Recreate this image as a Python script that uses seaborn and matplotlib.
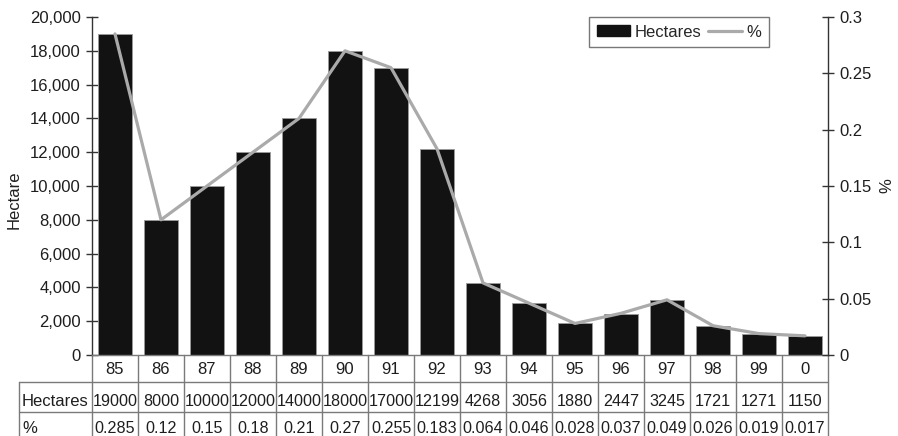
import numpy as np
import pandas as pd
import matplotlib
matplotlib.use("Agg")
import matplotlib.pyplot as plt
import matplotlib.transforms as mtransforms
from matplotlib.patches import Patch
from matplotlib.lines import Line2D
from matplotlib.ticker import FuncFormatter, MultipleLocator
import seaborn as sns

# Yearly area data
years = ["85", "86", "87", "88", "89", "90", "91", "92",
         "93", "94", "95", "96", "97", "98", "99", "0"]
hectares = [19000, 8000, 10000, 12000, 14000, 18000, 17000, 12199,
            4268, 3056, 1880, 2447, 3245, 1721, 1271, 1150]
percent = [0.285, 0.12, 0.15, 0.18, 0.21, 0.27, 0.255, 0.183,
           0.064, 0.046, 0.028, 0.037, 0.049, 0.026, 0.019, 0.017]
row_labels = ["Hectares", "%"]

sns.set_theme(style="white")
plt.rcParams["font.family"] = ["Liberation Sans", "DejaVu Sans"]

df = pd.DataFrame({"year": years, "hectares": hectares, "pct": percent,
                   "pos": np.arange(len(years))})

W, H = 898, 436
fig = plt.figure(figsize=(W / 100, H / 100), dpi=100)
ax_l, ax_r, ax_t, ax_b = 92, 828, 17, 355
ax = fig.add_axes([ax_l / W, 1 - ax_b / H, (ax_r - ax_l) / W, (ax_b - ax_t) / H])

bar_color = "#121212"
line_color = "#aaaaaa"
grid_color = "#7a7a7a"
spine_color = "#333333"
text_color = "#1e1e1e"
fs = 12

sns.barplot(data=df, x="year", y="hectares", order=years, color=bar_color,
            width=0.76, edgecolor="#9a9a9a", linewidth=0.6, saturation=1,
            ax=ax)
ax.set_xlim(-0.5, len(years) - 0.5)
ax.set_ylim(0, 20000)
ax.yaxis.set_major_locator(MultipleLocator(2000))
ax.yaxis.set_major_formatter(FuncFormatter(lambda v, p: f"{int(v):,}"))
ax.set_xticks([])
ax.set_xlabel("")
ax.set_ylabel("Hectare", fontsize=fs, color=text_color)
ax.yaxis.set_label_coords((22 - ax_l) / (ax_r - ax_l), 0.46)
ax.tick_params(axis="y", direction="inout", length=8, width=1,
               color=spine_color, labelsize=fs, labelcolor=text_color, pad=4,
               left=True)

ax2 = ax.twinx()
sns.lineplot(data=df, x="pos", y="pct", color=line_color, linewidth=2.3,
             ax=ax2, legend=False)
ax2.set_ylim(0, 0.3)
ax2.set_xlim(-0.5, len(years) - 0.5)
ax2.yaxis.set_major_locator(MultipleLocator(0.05))
ax2.yaxis.set_major_formatter(FuncFormatter(lambda v, p: f"{round(v, 2):g}"))
ax2.set_xlabel("")
ax2.set_xticks([])
ax2.set_ylabel("%", fontsize=fs, color=text_color, rotation=90)
ax2.yaxis.set_label_coords((879 - ax_l) / (ax_r - ax_l), 0.5)
ax2.tick_params(axis="y", direction="inout", length=8, width=1,
                color=spine_color, labelsize=fs, labelcolor=text_color, pad=4,
                right=True)

for a in (ax, ax2):
    a.spines["top"].set_visible(False)
    for s in ("left", "right", "bottom"):
        a.spines[s].set_color(spine_color)
        a.spines[s].set_linewidth(1)
ax.spines["right"].set_visible(False)
ax2.spines["left"].set_visible(False)
ax2.spines["bottom"].set_visible(False)
ax.spines["bottom"].set_color(grid_color)

# Data table below the plot
trans = mtransforms.blended_transform_factory(ax.transData, ax.transAxes)
ph = ax_b - ax_t
pw = ax_r - ax_l


def ypix(y):
    return (ax_b - y) / ph


def xpix(x):
    return (x - ax_l) / pw


row_lines = [382, 412]
bottom = 445
for y in row_lines:
    ax.add_line(Line2D([xpix(19), 1], [ypix(y), ypix(y)], transform=ax.transAxes,
                       color=grid_color, lw=1, clip_on=False))
ax.add_line(Line2D([xpix(19), xpix(19)], [ypix(382), ypix(bottom)],
                   transform=ax.transAxes, color=grid_color, lw=1, clip_on=False))
for i in range(len(years) + 1):
    ax.add_line(Line2D([i - 0.5, i - 0.5], [0, ypix(bottom)], transform=trans,
                       color=grid_color, lw=1, clip_on=False))

for i, (yr, h, p) in enumerate(zip(years, hectares, percent)):
    ax.text(i, ypix(374), yr, transform=trans, ha="center", va="baseline",
            fontsize=12, color=text_color, clip_on=False)
    ax.text(i, ypix(406), f"{h}", transform=trans, ha="center", va="baseline",
            fontsize=11.6, color=text_color, clip_on=False)
    ax.text(i, ypix(433), f"{p:g}", transform=trans, ha="center", va="baseline",
            fontsize=11.6, color=text_color, clip_on=False)
for lab, yb in zip(row_labels, [406, 433]):
    ax.text(xpix(22), ypix(yb), lab, transform=ax.transAxes, ha="left",
            va="baseline", fontsize=fs, color=text_color, clip_on=False)

# Legend
handles = [Patch(facecolor=bar_color, edgecolor=bar_color, label="Hectares"),
           Line2D([], [], color=line_color, lw=2.3, label="%")]
leg = ax2.legend(handles=handles, ncol=2, loc="upper left",
                 bbox_to_anchor=(xpix(589), 1.0), frameon=True, fancybox=False,
                 fontsize=fs, handlelength=2.0, handleheight=0.6,
                 handletextpad=0.3, columnspacing=0.4, borderpad=0.45,
                 borderaxespad=0)
leg.get_frame().set_edgecolor("#555555")
leg.get_frame().set_linewidth(1)

fig.savefig("out.png", dpi=100)
